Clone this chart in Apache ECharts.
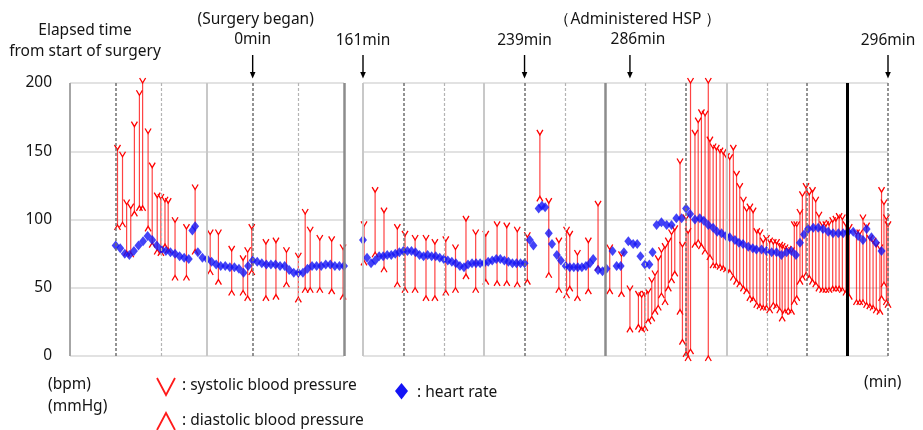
<!DOCTYPE html>
<html>
<head>
<meta charset="utf-8">
<script src="https://cdn.jsdelivr.net/npm/echarts@6/dist/echarts.min.js"></script>
<style>
html,body{margin:0;padding:0;background:#fff;}
#c{width:923px;height:430px;}
</style>
</head>
<body>
<div id="c"></div>
<script>
// ---- data (x in panel units: one vertical grid line every 10 units) ----
const yTickMin = 0, yTickMax = 200, yTickStep = 50;

const leftBpTime = [10.4,11.5,12.4,13.3,14.1,15.2,15.9,17.1,18.0,19.1,19.9,20.8,21.5,23.0,25.5,27.4,30.7,32.5,35.4,37.9,38.9,39.8,42.9,45.1,47.4,50.0,51.5,52.6,54.7,57.3,59.8];
const leftSys = [151,146,111,108,168,191,200,163,138,116,115,113,112,98,93,122,89,89,77,70,76,93,82,83,76,72,104,91,85,84,78];
const leftDia = [96,98,77,76,106,110,110,95,83,78,77,82,79,59,59,78,63,56,48,48,44,63,44,45,54,43,50,50,50,49,45];

const leftHrTime = [10,11,12,13,14,15,16,17,18,19,20,21,22,23,24,25,26,26.8,27.4,28,29,30,31,32,33,34,35,36,37,38,39,40,41,42,43,44,45,46,47,48,49,50,51,52,53,54,55,56,57,58,59,60];
const leftHr = [81,79,75,74,77,81,84,88,85,81,78,77,76,75,73,72,71,92,95,76,72,71,69,67,66,66,65,65,64,61,66,70,69,68,67,67,67,66,66,63,61,61,61,64,66,66,66,67,67,66,66,66];

const rightBpTime = [0.25,3.0,5.2,8.5,10.4,12.9,15.6,17.8,20.5,22.9,25.5,27.9,30.4,33.2,35.6,38.2,40.7,43.8,46.0,48.5,50.4,51.2,53.1,55.8,58.2,61.1,64.0,66.1,68.2,69.0,69.8,70.6,71.5,72.3,73.1,73.9,74.8,75.6,76.4,77.2,78.5,79.1,80.0,80.5,81.1,82.2,83.0,83.8,84.7,85.5,85.9,86.7,87.5,88.4,89.2,90.0,90.8,91.7,92.5,93.3,94.2,95.0,95.8,96.6,97.5,98.3,99.1,99.9,100.7,101.6,102.4,103.2,103.8,104.5,105.3,106.1,106.8,107.4,108.2,108.8,109.7,110.5,111.3,112.1,112.9,113.8,114.6,115.4,116.3,117.1,117.9,118.7,119.6,120.4,122.2,123.0,123.8,124.7,125.5,126.3,127.1,128.0,128.4,129.0,129.6,130.0];
const rightSys = [95,120,105,93,88,85,85,82,84,78,99,89,88,95,94,91,87,162,112,83,91,88,74,83,110,78,73,48,44,43,44,46,54,59,70,76,79,83,89,92,141,80,100,90,200,162,171,177,176,200,157,152,151,149,148,145,144,151,132,123,113,106,108,105,90,89,83,85,83,82,82,80,79,78,77,76,95,95,104,117,123,118,120,113,102,95,95,96,98,99,101,100,95,93,89,89,100,94,85,83,80,78,120,111,100,95];
const rightDia = [70,76,65,54,50,50,44,44,48,50,60,50,56,55,55,54,56,117,61,50,46,51,44,49,66,49,47,21,23,21,22,27,29,34,37,46,41,51,57,62,34,12,3,0,5,83,85,82,78,0,74,68,68,67,66,65,63,59,56,54,51,49,44,43,39,38,37,37,35,39,38,35,29,34,35,34,41,44,56,59,61,59,56,54,51,50,50,50,51,51,51,50,48,45,41,41,41,39,38,37,35,34,44,54,41,39];

const rightHrTime = [0,1,2,3,4,5,6,7,8,9,10,11,12,13,14,15,16,17,18,19,20,21,22,23,24,25,26,27,28,29,30,31,32,33,34,35,36,37,38,39,40,41.3,42.2,43.5,44.3,45.1,46,46.8,48,49,50.2,51.2,52.2,53.2,54.2,55.2,56.2,57,58.2,59.3,60.3,61.8,62.8,63.8,64.6,65.7,66.9,67.9,68.7,69.8,70.9,71.7,72.7,73.9,75.2,76.4,77.6,78.9,80.0,81.0,82.2,83.4,84.4,85.5,86.7,87.7,88.8,89.9,90.8,92.1,93.1,94.1,95.4,96.5,97.4,98.7,99.9,101.2,102.4,103.6,104.9,106.1,107.2,108.2,109.2,110.2,111.5,112.7,113.9,115.2,116.4,117.7,118.9,120.1,121.4,122.6,123.8,124.7,125.9,127.0,128.4];
const rightHr = [85,72,68,70,73,73,74,74,75,76,77,77,77,76,74,73,74,73,73,72,71,70,69,68,66,65,67,68,68,68,68,69,70,71,71,70,69,68,68,68,68,85,81,108,110,109,90,82,74,70,66,65,65,65,65,66,68,71,63,62,64,77,66,66,76,84,82,82,73,67,67,76,96,98,96,96,101,101,108,104,100,101,99,96,94,91,90,88,87,85,83,82,80,79,78,78,77,76,76,74,76,77,74,83,89,93,94,94,93,91,90,90,90,91,91,88,85,93,87,83,77];

// vertical reference lines (panel units) and their style names
const leftVLines = [0,10,20,30,40,50,60];
const leftVStyles = ['solidMid','dashDark','dashLight','solidLight','dashDark','dashLight','solidDark'];
const rightVLines = [0,10,20,30,40,50,60,70,80,90,100,110,120,130];
const rightVStyles = ['solidLight','dashDark','dashLight','solidLight','dashDark','dashLight','solidDark','dashLight','dashDark','solidLight','dashLight','dashDark','black','dashDark'];

// annotations: [panel, x, label lines]
const marks = [
  {panel:0, x:40, lines:['(Surgery began)','0min']},
  {panel:1, x:0, lines:['161min']},
  {panel:1, x:40, lines:['239min']},
  {panel:1, x:66.1, lines:['（Administered HSP ）','286min'], dx:8},
  {panel:1, x:130, lines:['296min']}
];

// ---- styles ----
const FONT = '"Noto Sans", "Open Sans", sans-serif';
const FS = 15.5;
const TXT = '#141414';
const vStyle = {
  solidMid:  {color:'#a6a6a6', width:2, type:'solid'},
  solidLight:{color:'#c8c8c8', width:2, type:'solid'},
  solidDark: {color:'#8c8c8c', width:2.5, type:'solid'},
  dashDark:  {color:'#707070', width:1.5, type:[3,2]},
  dashLight: {color:'#b4b4b4', width:1.2, type:[3,2]},
  black:     {color:'#000000', width:3, type:'solid'}
};

function bpRender(params, api){
  const x = api.value(0), s = api.value(1), d = api.value(2);
  const t = api.coord([x, s]), b = api.coord([x, d]);
  const w = 3, h = 5;
  return {type:'group', children:[
    {type:'line', shape:{x1:t[0],y1:t[1],x2:b[0],y2:b[1]}, style:{stroke:'rgba(255,20,20,0.8)', lineWidth:1.2}},
    {type:'polyline', shape:{points:[[t[0]-w,t[1]-h],[t[0],t[1]],[t[0]+w,t[1]-h]]}, style:{stroke:'#ff0000', fill:null, lineWidth:1.3}},
    {type:'polyline', shape:{points:[[b[0]-w,b[1]+h],[b[0],b[1]],[b[0]+w,b[1]+h]]}, style:{stroke:'#ff0000', fill:null, lineWidth:1.3}}
  ]};
}

function vLineSeries(idx, xs, styles){
  return {
    type:'line', xAxisIndex:idx, yAxisIndex:idx, data:[], z:1, silent:true,
    markLine:{
      silent:true, symbol:'none', animation:false, label:{show:false},
      data: xs.map((v,i)=>({xAxis:v, lineStyle:Object.assign({}, vStyle[styles[i]])}))
    }
  };
}

const chart = echarts.init(document.getElementById('c'), null, {renderer:'canvas'});
const yAxisBase = {
  type:'value', min:yTickMin, max:yTickMax, interval:yTickStep,
  axisLine:{show:false}, axisTick:{show:false},
  splitLine:{show:true, lineStyle:{color:'#d9d9d9', width:1.5}}
};
chart.setOption({
  animation:false,
  backgroundColor:'#fff',
  grid:[
    {left:70, top:83, width:274, height:273},
    {left:363, top:83, width:525, height:273}
  ],
  xAxis:[
    {type:'value', gridIndex:0, min:0, max:60, show:false},
    {type:'value', gridIndex:1, min:0, max:130, show:false}
  ],
  yAxis:[
    Object.assign({gridIndex:0, axisLabel:{show:true, margin:18, fontSize:FS, color:TXT, fontFamily:FONT}}, yAxisBase),
    Object.assign({gridIndex:1, axisLabel:{show:false}}, yAxisBase)
  ],
  series:[
    vLineSeries(0, leftVLines, leftVStyles),
    vLineSeries(1, rightVLines, rightVStyles),
    {type:'custom', xAxisIndex:0, yAxisIndex:0, z:3, renderItem:bpRender, clip:false,
     encode:{x:0, y:[1,2]},
     data:leftBpTime.map((t,i)=>[t,leftSys[i],leftDia[i]])},
    {type:'custom', xAxisIndex:1, yAxisIndex:1, z:3, renderItem:bpRender, clip:false,
     encode:{x:0, y:[1,2]},
     data:rightBpTime.map((t,i)=>[t,rightSys[i],rightDia[i]])},
    {type:'scatter', xAxisIndex:0, yAxisIndex:0, z:4, symbol:'diamond', symbolSize:[8,10],
     itemStyle:{color:'#1414f5'}, data:leftHrTime.map((t,i)=>[t,leftHr[i]])},
    {type:'scatter', xAxisIndex:1, yAxisIndex:1, z:4, symbol:'diamond', symbolSize:[8,10],
     itemStyle:{color:'#1414f5'}, data:rightHrTime.map((t,i)=>[t,rightHr[i]])}
  ]
});

// ---- annotations & legend (graphic) ----
const g = [];
function txt(x, y, s, align){
  g.push({type:'text', x:x, y:y, style:{text:s, font:FS+'px '+FONT, fill:TXT, textAlign:align||'left', textVerticalAlign:'middle'}});
}
txt(85, 31, 'Elapsed time', 'center');
txt(85, 52, 'from start of surgery', 'center');
marks.forEach(m=>{
  const p = chart.convertToPixel({gridIndex:m.panel}, [m.x, 200]);
  const cx = p[0] + (m.dx||0);
  if (m.lines.length === 2){
    txt(cx + (m.panel===0?3:0), 20, m.lines[0], 'center');
    txt(cx, 40, m.lines[1], 'center');
  } else {
    txt(cx, 41, m.lines[0], 'center');
  }
  g.push({type:'line', shape:{x1:p[0], y1:55, x2:p[0], y2:73}, style:{stroke:'#000', lineWidth:1.4}});
  g.push({type:'polygon', shape:{points:[[p[0]-2.8,72],[p[0]+2.8,72],[p[0],78.5]]}, style:{fill:'#000'}});
});
// bottom labels
txt(48, 385, '(bpm)');
txt(48, 407, '(mmHg)');
txt(864, 383, '(min)');
g.push({type:'polyline', shape:{points:[[157,378],[166,395],[175,378]]}, style:{stroke:'#ff1a1a', lineWidth:1.8, fill:null}});
txt(182, 386, ': systolic blood pressure');
g.push({type:'polyline', shape:{points:[[157,430],[166,413],[175,430]]}, style:{stroke:'#ff1a1a', lineWidth:1.8, fill:null}});
txt(182, 421, ': diastolic blood pressure');
g.push({type:'polygon', shape:{points:[[401.5,383],[408,391],[401.5,399.5],[395,391]]}, style:{fill:'#1414f5'}});
txt(417, 393, ': heart rate');
chart.setOption({graphic:g});
</script>
</body>
</html>
